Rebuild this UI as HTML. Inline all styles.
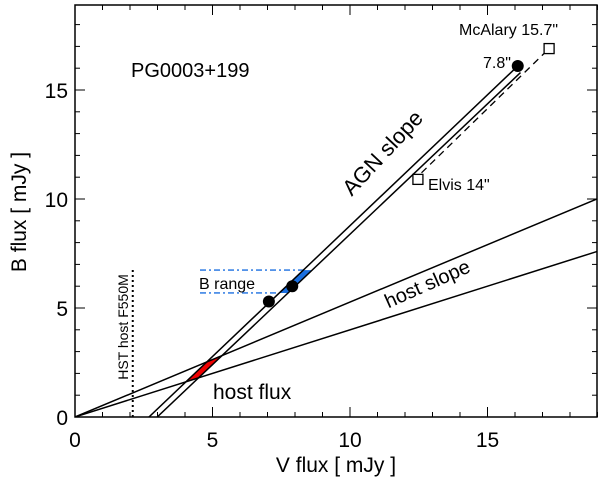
<!DOCTYPE html>
<html><head><meta charset="utf-8"><style>
body{margin:0;background:#fff}
svg{display:block;font-family:"Liberation Sans",Arial,sans-serif}
</style></head><body>
<svg id="c" width="600" height="480">
<defs><clipPath id="clip"><rect x="75" y="5" width="522" height="412"/></clipPath></defs>
</svg>
<script>
const xTicks=[0,5,10,15];
const yTicks=[0,5,10,15];
const agnLine1=[[2.69,0],[16.1,16.1]];
const agnLine2=[[2.99,0],[16.2,15.8]];
const agnDashed=[[12.6,11.2],[17.24,16.9]];
const hostSlopes=[0.527,0.40];
const points=[[7.05,5.3],[7.9,6.0],[16.1,16.1]];
const squares=[[12.47,10.9],[17.24,16.9]];
const bRange=[5.69,6.74];
const hstV=2.1, hstTop=6.85;
const X=v=>75+v*27.5, Y=b=>417-b*21.8;
const s=document.getElementById('c'),NS='http://www.w3.org/2000/svg';
function el(t,a,p){const e=document.createElementNS(NS,t);for(const k in a)e.setAttribute(k,a[k]);(p||s).appendChild(e);return e;}
const g=el('g',{'clip-path':'url(#clip)'});


function agnX(l,b){const[a,c]=l;return a[0]+(b-a[1])*(c[0]-a[0])/(c[1]-a[1]);}
const hostPts=[];
[[agnLine1,hostSlopes[1]],[agnLine1,hostSlopes[0]],[agnLine2,hostSlopes[0]],[agnLine2,hostSlopes[1]]].forEach(([l,m])=>{
 const[a,c]=l;const k=(c[1]-a[1])/(c[0]-a[0]);const v=(k*a[0]-a[1])/(k-m);hostPts.push([v,m*v]);});
const poly=el('polygon',{points:hostPts.map(p=>X(p[0])+','+Y(p[1])).join(' '),fill:'#e00',stroke:'#000','stroke-width':1},g);


const bp=[[agnX(agnLine1,bRange[0]),bRange[0]],[agnX(agnLine1,bRange[1]),bRange[1]],[agnX(agnLine2,bRange[1]),bRange[1]],[agnX(agnLine2,bRange[0]),bRange[0]]];
const bpoly=el('polygon',{points:bp.map(p=>X(p[0])+','+Y(p[1])).join(' '),fill:'#1a6fe0'},g);


bRange.forEach((b,i)=>{const l=el('line',{x1:200,x2:X(agnX(agnLine1,b)),y1:Y(b),y2:Y(b),stroke:'#1a6fe0','stroke-width':1.3,'stroke-dasharray':'6,3,2,3'},g);

});
[agnLine1,agnLine2].forEach(l=>{
 const e=el('line',{x1:X(agnX(l,-1)),y1:Y(-1),x2:X(l[1][0]),y2:Y(l[1][1]),stroke:'#000','stroke-width':1.5},g);
 
 });
const dl=el('line',{x1:X(agnDashed[0][0]),y1:Y(agnDashed[0][1]),x2:X(agnDashed[1][0]),y2:Y(agnDashed[1][1]),stroke:'#000','stroke-width':1.3,'stroke-dasharray':'7,5'},g);


hostSlopes.forEach(m=>{const e=el('line',{x1:X(0),y1:Y(0),x2:X(20),y2:Y(20*m),stroke:'#000','stroke-width':1.5},g);

});
const hl=el('line',{x1:X(hstV),y1:Y(0),x2:X(hstV),y2:Y(hstTop),stroke:'#000','stroke-width':2,'stroke-dasharray':'2,3'},g);


points.forEach(p=>{const c=el('circle',{cx:X(p[0]),cy:Y(p[1]),r:6,fill:'#000'});

});
squares.forEach(p=>{const r=el('rect',{x:X(p[0])-5,y:Y(p[1])-5,width:10,height:10,fill:'#fff',stroke:'#000','stroke-width':1.3});

});
const fr=el('rect',{x:75,y:5,width:522,height:412,fill:'none',stroke:'#000','stroke-width':1.5});


for(let v=0;v<=19;v++){const L=v%5==0?10:5;
 el('line',{x1:X(v),x2:X(v),y1:417,y2:417-L,stroke:'#000'});el('line',{x1:X(v),x2:X(v),y1:5,y2:5+L,stroke:'#000'});}
for(let b=0;b<=18;b++){const L=b%5==0?10:5;
 el('line',{x1:75,x2:75+L,y1:Y(b),y2:Y(b),stroke:'#000'});el('line',{x1:597,x2:597-L,y1:Y(b),y2:Y(b),stroke:'#000'});}
xTicks.forEach(v=>{const t=el('text',{x:X(v),y:447,'font-size':21,'text-anchor':'middle'});t.textContent=v;

});
yTicks.forEach(b=>{const t=el('text',{x:68,y:Y(b)+8,'font-size':21,'text-anchor':'end'});t.textContent=b;

});
function txt(str,x,y,fs,name,rot,anchor){const t=el('text',{x:x,y:y,'font-size':fs,'text-anchor':anchor||'start'});
if(rot)t.setAttribute('transform',`rotate(${rot} ${x} ${y})`);t.textContent=str;

}
txt('V flux [ mJy ]',336,472,21,'x-axis-title',0,'middle');
txt('B flux [ mJy ]',26,212,21,'y-axis-title',-90,'middle');
txt('PG0003+199',131,77,20,'object-name');
txt('AGN slope',388,158,22,'agn-slope-label',-47,'middle');
txt('host slope',430,290,20,'host-slope-label',-24,'middle');
txt('host flux',213,399,21,'host-flux-label');
txt('B range',199,289,16,'b-range-label');
txt('HST host F550M',128,327,14,'hst-host-label',-90,'middle');
txt('McAlary 15.7"',459,35,16,'mcalary-label');
txt('7.8"',483,68,16,'aperture-label');
txt('Elvis 14"',428,190,16,'elvis-label');
</script>
</body></html>
